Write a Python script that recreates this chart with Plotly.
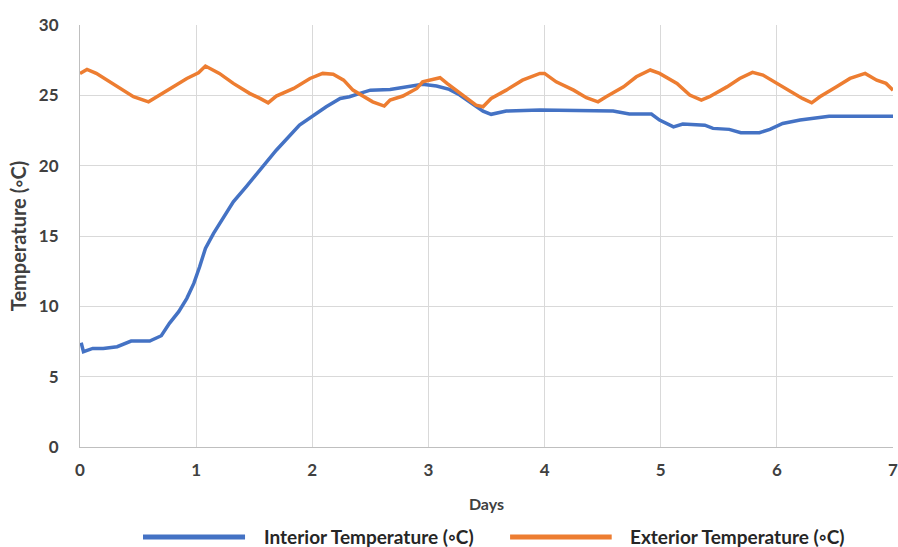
import plotly.graph_objects as go

### DATA ###
ext_days = [0.00, 0.06, 0.14, 0.26, 0.37, 0.46, 0.59, 0.69, 0.80, 0.92, 1.02, 1.08,
            1.20, 1.32, 1.46, 1.55, 1.62, 1.69, 1.84, 1.98, 2.09, 2.18, 2.27, 2.35,
            2.44, 2.52, 2.62, 2.67, 2.78, 2.90, 2.95, 3.10, 3.16, 3.24, 3.33, 3.41,
            3.47, 3.54, 3.67, 3.81, 3.96, 4.00, 4.10, 4.25, 4.36, 4.46, 4.53, 4.68,
            4.79, 4.91, 4.99, 5.14, 5.25, 5.35, 5.42, 5.57, 5.68, 5.79, 5.88, 6.00,
            6.11, 6.22, 6.30, 6.37, 6.51, 6.63, 6.76, 6.86, 6.94, 7.00]
ext_temp = [26.56, 26.84, 26.56, 25.96, 25.37, 24.90, 24.54, 25.02, 25.60, 26.20, 26.60, 27.08,
            26.56, 25.85, 25.14, 24.78, 24.47, 24.95, 25.49, 26.20, 26.56, 26.50, 26.08, 25.37,
            24.90, 24.54, 24.24, 24.66, 24.95, 25.49, 25.96, 26.25, 25.85, 25.37, 24.78, 24.30,
            24.19, 24.78, 25.37, 26.08, 26.56, 26.56, 25.96, 25.37, 24.83, 24.54, 24.90, 25.60,
            26.32, 26.80, 26.56, 25.85, 25.02, 24.66, 24.90, 25.60, 26.20, 26.63, 26.44, 25.85,
            25.25, 24.78, 24.47, 24.90, 25.60, 26.20, 26.56, 26.08, 25.85, 25.37]

int_days = [0.01, 0.03, 0.11, 0.20, 0.32, 0.44, 0.60, 0.70, 0.77, 0.85, 0.92, 0.98,
            1.03, 1.08, 1.15, 1.23, 1.32, 1.43, 1.55, 1.69, 1.89, 2.01, 2.12, 2.24,
            2.32, 2.41, 2.50, 2.67, 2.81, 2.95, 3.07, 3.18, 3.27, 3.38, 3.47, 3.54,
            3.67, 3.96, 4.59, 4.73, 4.92, 4.99, 5.11, 5.19, 5.38, 5.45, 5.59, 5.69,
            5.85, 5.94, 6.05, 6.20, 6.31, 6.45, 7.00]
int_temp = [7.42, 6.78, 7.01, 7.01, 7.13, 7.53, 7.53, 7.91, 8.79, 9.62, 10.57, 11.63,
            12.81, 14.12, 15.19, 16.25, 17.43, 18.50, 19.69, 21.10, 22.88, 23.60, 24.19, 24.78,
            24.90, 25.14, 25.37, 25.42, 25.60, 25.78, 25.66, 25.42, 25.02, 24.43, 23.88, 23.65,
            23.88, 23.95, 23.88, 23.67, 23.67, 23.24, 22.76, 22.96, 22.88, 22.65, 22.58, 22.34,
            22.34, 22.58, 23.00, 23.24, 23.36, 23.52, 23.52]

x_ticks = [0, 1, 2, 3, 4, 5, 6, 7]
y_ticks = [0, 5, 10, 15, 20, 25, 30]

series_names = ["Interior Temperature (◦C)", "Exterior Temperature (◦C)"]
series_colors = ["#4472C4", "#ED7D31"]

### FIGURE ###
FONT = "Lato"
TEXT = "#404040"

fig = go.Figure()
fig.add_trace(go.Scatter(x=int_days, y=int_temp, mode="lines", name=series_names[0],
                         line=dict(color=series_colors[0], width=3.5)))
fig.add_trace(go.Scatter(x=ext_days, y=ext_temp, mode="lines", name=series_names[1],
                         line=dict(color=series_colors[1], width=3.5)))

# legend drawn by hand below the plot (long swatches like the original)
legend_y = -0.213
for (x0, x1, tx), name, color in zip([(0.0775, 0.203, 0.224), (0.529, 0.654, 0.674)],
                                     series_names, series_colors):
    fig.add_shape(type="line", xref="paper", yref="paper", x0=x0, x1=x1,
                  y0=legend_y, y1=legend_y, line=dict(color=color, width=5))
    fig.add_annotation(xref="paper", yref="paper", x=tx, y=legend_y, xanchor="left",
                       yanchor="middle", showarrow=False, text=f"<b>{name}</b>",
                       font=dict(family=FONT, size=19, color="#262626"))

fig.update_layout(
    width=898, height=547,
    margin=dict(l=80, r=5, t=25, b=100),
    paper_bgcolor="white", plot_bgcolor="white",
    font=dict(family=FONT, color=TEXT, size=16),
    showlegend=False,
)

fig.update_xaxes(range=[0, 7], tickvals=x_ticks, ticktext=[f"<b>{t}</b>" for t in x_ticks],
                 showgrid=True, gridcolor="#d9d9d9", gridwidth=1,
                 showline=True, linecolor="#bfbfbf", linewidth=1,
                 tickfont=dict(size=17), ticks="", ticklabelstandoff=8,
                 ticklabeloverflow="allow",
                 title=dict(text="<b>Days</b>", font=dict(size=16), standoff=19),
                 zeroline=False, automargin=False)
fig.update_yaxes(range=[0, 30], tickvals=y_ticks, ticktext=[f"<b>{t}</b>" for t in y_ticks],
                 showgrid=True, gridcolor="#d9d9d9", gridwidth=1,
                 showline=True, linecolor="#bfbfbf", linewidth=1,
                 tickfont=dict(size=17), ticks="", ticklabelstandoff=17,
                 title=dict(text="<b>Temperature (◦C)</b>", font=dict(size=20), standoff=6),
                 zeroline=False, automargin=False)

# drop the browser's default 8px body margin so the figure fills the window
fig.write_html("out.html", config={"displayModeBar": False},
               post_script="document.body.style.margin = '0';")
